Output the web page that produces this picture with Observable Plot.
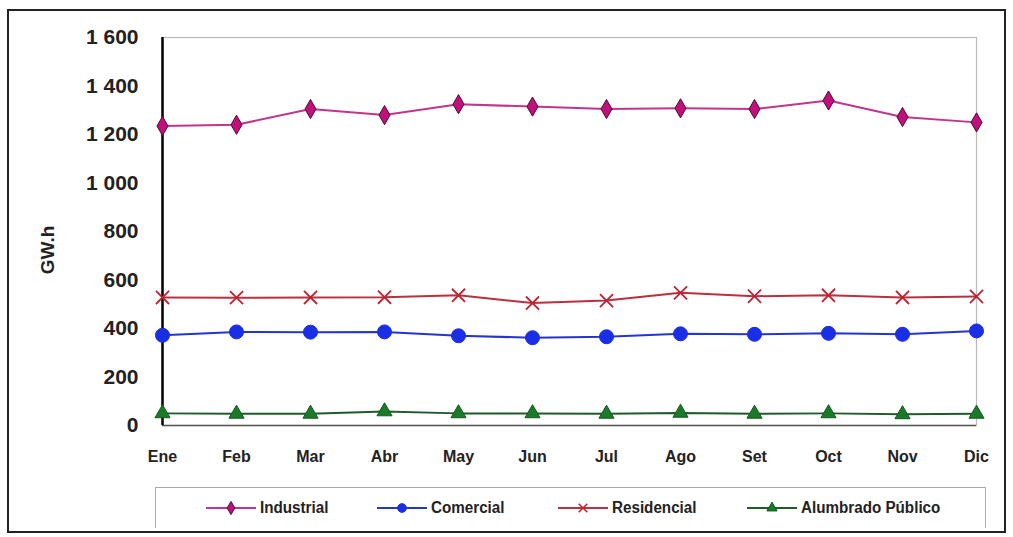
<!DOCTYPE html>
<html>
<head>
<meta charset="utf-8">
<script src="https://cdn.jsdelivr.net/npm/d3@7"></script>
<script src="https://cdn.jsdelivr.net/npm/@observablehq/plot@0.6"></script>
<style>
  html, body { margin: 0; padding: 0; background: #fff; }
  #wrap { position: relative; width: 1013px; height: 537px; overflow: hidden; background: #fff; }
  #wrap svg.plot { position: absolute; left: 0; top: 0; }
  #border { position: absolute; left: 7px; top: 9px; width: 995px; height: 520px; border: 2px solid #222; box-sizing: content-box; }
  #legend { position: absolute; left: 155px; top: 487px; width: 829px; height: 40px; border: 1px solid #aaa; border-bottom: none; }
  #ylabel { position: absolute; left: 48px; top: 250px; transform: translate(-50%, -50%) rotate(-90deg); font-family: "Liberation Sans", Arial, sans-serif; font-weight: bold; font-size: 19px; color: #222; white-space: nowrap; }
  .item { position: absolute; top: 8px; height: 24px; display: flex; align-items: center; font-family: "Liberation Sans Narrow", "Arial Narrow", "Liberation Sans", sans-serif; font-size: 16px; font-weight: bold; color: #222; white-space: nowrap; }
  .item svg { margin-right: 4px; }
  .item span { display: inline-block; transform: scaleX(0.95); transform-origin: left center; }
</style>
</head>
<body>
<div id="wrap">
  <div id="border"></div>
  <div id="legend"></div>
  <div id="ylabel">GW.h</div>
</div>
<script>
const months = ["Ene", "Feb", "Mar", "Abr", "May", "Jun", "Jul", "Ago", "Set", "Oct", "Nov", "Dic"];
const seriesNames = ["Industrial", "Comercial", "Residencial", "Alumbrado Público"];
const industrial = [1235, 1240, 1305, 1280, 1325, 1315, 1305, 1308, 1305, 1340, 1272, 1250];
const comercial = [372, 386, 385, 386, 370, 362, 366, 378, 376, 380, 376, 390];
const residencial = [528, 527, 528, 529, 537, 505, 515, 547, 533, 537, 528, 532];
const alumbrado = [50, 48, 48, 58, 50, 50, 48, 52, 48, 50, 46, 48];
const yTicks = [0, 200, 400, 600, 800, 1000, 1200, 1400, 1600];

const lineColors = ["#c2358c", "#2535d0", "#bb3040", "#1f5a2a"];
const markerFill = ["#c0107a", "#1a2ee6", "none", "#1a7a2a"];
const markerStroke = ["#4a0a35", "#1a2ee6", "#c02030", "#135a1e"];
const symbols = ["diamond", "circle", "times", "triangle"];
const radii = [5.8, 7, 6, 5.6];
const legendX = [205, 376, 557, 746];

const seriesValues = [industrial, comercial, residencial, alumbrado];
const data = seriesValues.flatMap((vals, i) => vals.map((v, j) => ({mes: months[j], valor: v, serie: seriesNames[i]})));

const fmt = d => d3.format(",")(d).replace(/,/g, " ");

const plot = Plot.plot({
  width: 1013,
  height: 480,
  marginLeft: 162,
  marginRight: 37,
  marginTop: 37,
  marginBottom: 55,
  style: {background: "transparent"},
  x: {type: "point", domain: months, padding: 0},
  y: {domain: [0, 1600]},
  marks: [
    Plot.frame({stroke: "#bbb", strokeWidth: 1.2}),
    Plot.ruleY([0], {stroke: "#555", strokeWidth: 1.5}),
    Plot.axisY({ticks: yTicks, tickSize: 0, tickPadding: 24, tickFormat: fmt, fontSize: 21, fontWeight: "bold", fill: "#222", fontFamily: "Liberation Sans, Arial, sans-serif", label: null}),
    Plot.axisX({tickSize: 0, tickPadding: 25, fontSize: 16, fontWeight: "bold", fill: "#222", fontFamily: "Liberation Sans Narrow, Arial Narrow, Liberation Sans, sans-serif", label: null}),
    Plot.ruleX([months[0]], {stroke: "#000", strokeWidth: 2.5}),
    ...seriesNames.map((s, i) => Plot.line(data.filter(d => d.serie === s), {x: "mes", y: "valor", stroke: lineColors[i], strokeWidth: 2})),
    ...seriesNames.map((s, i) => Plot.dot(data.filter(d => d.serie === s), {x: "mes", y: "valor", symbol: symbols[i], r: radii[i], fill: markerFill[i], stroke: markerStroke[i], strokeWidth: i === 2 ? 1.8 : 1}))
  ]
});
plot.classList.add("plot");
document.getElementById("wrap").insertBefore(plot, document.getElementById("border"));

// Legend
const legend = document.getElementById("legend");
const symbolPath = {
  diamond: d3.symbol(d3.symbolDiamond, 50)(),
  circle: d3.symbol(d3.symbolCircle, 60)(),
  times: d3.symbol(d3.symbolTimes, 50)(),
  triangle: d3.symbol(d3.symbolTriangle, 45)()
};
seriesNames.forEach((s, i) => {
  const item = document.createElement("div");
  item.className = "item";
  item.style.left = (legendX[i] - 155) + "px";
  const svgNS = "http://www.w3.org/2000/svg";
  const sw = document.createElementNS(svgNS, "svg");
  sw.setAttribute("width", 50);
  sw.setAttribute("height", 20);
  const ln = document.createElementNS(svgNS, "line");
  ln.setAttribute("x1", 0); ln.setAttribute("x2", 50);
  ln.setAttribute("y1", 10); ln.setAttribute("y2", 10);
  ln.setAttribute("stroke", lineColors[i]);
  ln.setAttribute("stroke-width", 2);
  sw.appendChild(ln);
  const mk = document.createElementNS(svgNS, "path");
  mk.setAttribute("d", symbolPath[symbols[i]]);
  mk.setAttribute("transform", "translate(25,10)");
  mk.setAttribute("fill", markerFill[i]);
  mk.setAttribute("stroke", markerStroke[i]);
  mk.setAttribute("stroke-width", i === 2 ? 1.5 : 1);
  sw.appendChild(mk);
  item.appendChild(sw);
  const t = document.createElement("span");
  t.textContent = s;
  item.appendChild(t);
  legend.appendChild(item);
});
</script>
</body>
</html>
